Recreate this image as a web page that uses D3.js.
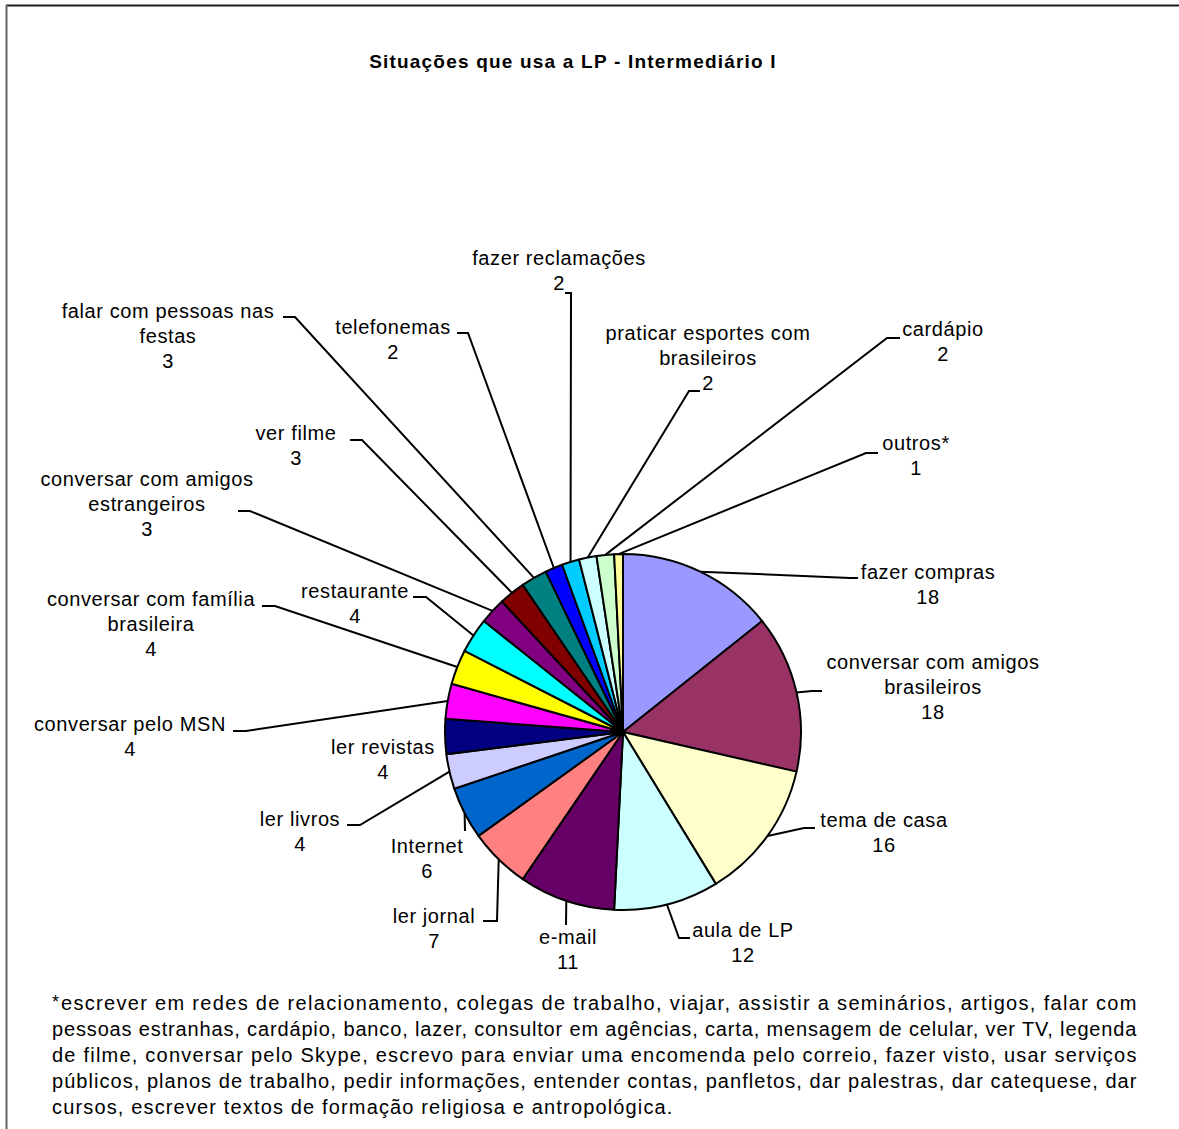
<!DOCTYPE html>
<html>
<head>
<meta charset="utf-8">
<script src="https://cdn.jsdelivr.net/npm/d3@7"></script>
<style>
  html, body { margin: 0; padding: 0; background: #fff; }
  svg { display: block; }
  text { font-family: "Liberation Sans", Arial, sans-serif; fill: #000; }
</style>
</head>
<body>
<script>
// Situations, counts and slice colours (clockwise from 12 o'clock)
const categories = [
  "fazer compras", "conversar com amigos brasileiros", "tema de casa", "aula de LP",
  "e-mail", "ler jornal", "Internet", "ler livros", "ler revistas", "conversar pelo MSN",
  "conversar com família brasileira", "restaurante", "conversar com amigos estrangeiros",
  "ver filme", "falar com pessoas nas festas", "telefonemas", "fazer reclamações",
  "praticar esportes com brasileiros", "cardápio", "outros*"
];
const values = [18, 18, 16, 12, 11, 7, 6, 4, 4, 4, 4, 4, 3, 3, 3, 2, 2, 2, 2, 1];
const colors = [
  "#9999FF", "#993366", "#FFFFCC", "#CCFFFF", "#660066", "#FF8080", "#0066CC", "#CCCCFF",
  "#000080", "#FF00FF", "#FFFF00", "#00FFFF", "#800080", "#800000", "#008080", "#0000FF",
  "#00CCFF", "#CCFFFF", "#CCFFCC", "#FFFF99"
];
// How each category name wraps in its label
const labelLines = [
  ["fazer compras"], ["conversar com amigos", "brasileiros"], ["tema de casa"], ["aula de LP"],
  ["e-mail"], ["ler jornal"], ["Internet"], ["ler livros"], ["ler revistas"], ["conversar pelo MSN"],
  ["conversar com família", "brasileira"], ["restaurante"], ["conversar com amigos", "estrangeiros"],
  ["ver filme"], ["falar com pessoas nas", "festas"], ["telefonemas"], ["fazer reclamações"],
  ["praticar esportes com", "brasileiros"], ["cardápio"], ["outros*"]
];
const title = "Situações que usa a LP - Intermediário I";
const footnoteLines = [
  "escrever em redes de relacionamento, colegas de trabalho, viajar, assistir a seminários, artigos, falar com",
  "pessoas estranhas, cardápio, banco, lazer, consultor em agências, carta, mensagem de celular, ver TV, legenda",
  "de filme, conversar pelo Skype, escrevo para enviar uma encomenda pelo correio, fazer visto, usar serviços",
  "públicos, planos de trabalho, pedir informações, entender contas, panfletos, dar palestras, dar catequese, dar",
  "cursos, escrever textos de formação religiosa e antropológica."
];

// Label placement: [text centre x, first line centre y, elbow x, elbow y, end x, end y]
// (null leader = label sits next to its slice without a line)
const labelLayout = [
  [928, 572, 850, 578, 858, 578],
  [933, 662, 812, 691, 822, 691],
  [884, 820, 804, 828, 815, 828],
  [743, 930, 679, 938, 690, 938],
  [568, 937, 566, 925, 566, 925],
  [434, 916, 497, 921, 483, 921],
  [427, 846, 465, 831, 465, 831],
  [300, 819, 360, 825, 347, 825],
  [383, 747, null, null, null, null],
  [130, 724, 246, 731, 233, 731],
  [151, 599, 275, 606, 262, 606],
  [355, 591, 426, 597, 413, 597],
  [147, 479, 250, 511, 238, 511],
  [296, 433, 362, 440, 350, 440],
  [168, 311, 295, 317, 283, 317],
  [393, 327, 468, 333, 457, 333],
  [559, 258, 571, 293, 565, 293],
  [708, 333, 689, 391, 700, 391],
  [943, 329, 887, 338, 900, 338],
  [916, 443, 866, 453, 878, 453]
];

const W = 1179, H = 1129;
const cx = 623, cy = 732, R = 178;

const svg = d3.select("body").append("svg")
  .attr("width", W).attr("height", H);

// Frame (top and left edges of the chart area)
svg.append("line").attr("x1", 6).attr("y1", 5.5).attr("x2", W).attr("y2", 5.5)
  .attr("stroke", "#1a1a1a").attr("stroke-width", 2);
svg.append("line").attr("x1", 6.5).attr("y1", 5).attr("x2", 6.5).attr("y2", H)
  .attr("stroke", "#666").attr("stroke-width", 2);

// Title
svg.append("text")
  .attr("x", 573).attr("y", 68)
  .attr("text-anchor", "middle")
  .style("font-size", "19px").style("font-weight", "bold")
  .style("letter-spacing", "1.2px")
  .text(title);

const data = categories.map((c, i) => ({ name: c, value: values[i], color: colors[i], i }));

const pie = d3.pie().sort(null).value(d => d.value);
const arcs = pie(data);
const arc = d3.arc().innerRadius(0).outerRadius(R);

const g = svg.append("g").attr("transform", `translate(${cx},${cy})`);
g.selectAll("path.slice").data(arcs).join("path")
  .attr("class", "slice")
  .attr("d", arc)
  .attr("fill", d => d.data.color)
  .attr("stroke", "#000")
  .attr("stroke-width", 2)
  .attr("stroke-linejoin", "round");

// Leader lines from each slice's outer midpoint to its label
const leaders = svg.append("g");
arcs.forEach((a, i) => {
  const L = labelLayout[i];
  if (L[2] === null) return;
  const mid = (a.startAngle + a.endAngle) / 2;
  const sx = cx + R * Math.sin(mid), sy = cy - R * Math.cos(mid);
  const pts = [[sx, sy], [L[2], L[3]], [L[4], L[5]]];
  leaders.append("path")
    .attr("d", d3.line()(pts))
    .attr("fill", "none")
    .attr("stroke", "#000")
    .attr("stroke-width", 2);
});

// Labels: category name lines followed by the value
const labels = svg.append("g").style("font-size", "20px").style("letter-spacing", "0.6px");
arcs.forEach((a, i) => {
  const L = labelLayout[i];
  const lines = labelLines[i].concat([String(a.data.value)]);
  const t = labels.append("text").attr("text-anchor", "middle");
  lines.forEach((ln, k) => {
    t.append("tspan")
      .attr("x", L[0])
      .attr("y", L[1] + 7 + k * 25)
      .text(ln);
  });
});

// Footnote, justified to the text block width
const fnLeft = 52, fnRight = 1137;
const fn = svg.append("g").style("font-size", "20px").style("letter-spacing", "0.6px");
footnoteLines.forEach((ln, k) => {
  const y = 1010 + k * 26;
  if (k === 0) {
    fn.append("text").attr("x", fnLeft).attr("y", y - 2).style("font-size", "18px").text("*");
    fn.append("text").attr("x", fnLeft + 9).attr("y", y)
      .attr("textLength", fnRight - fnLeft - 9).attr("lengthAdjust", "spacing")
      .text(ln);
  } else if (k < footnoteLines.length - 1) {
    fn.append("text").attr("x", fnLeft).attr("y", y)
      .attr("textLength", fnRight - fnLeft).attr("lengthAdjust", "spacing")
      .text(ln);
  } else {
    fn.append("text").attr("x", fnLeft).attr("y", y)
      .style("letter-spacing", "1.15px")
      .text(ln);
  }
});
</script>
</body>
</html>
